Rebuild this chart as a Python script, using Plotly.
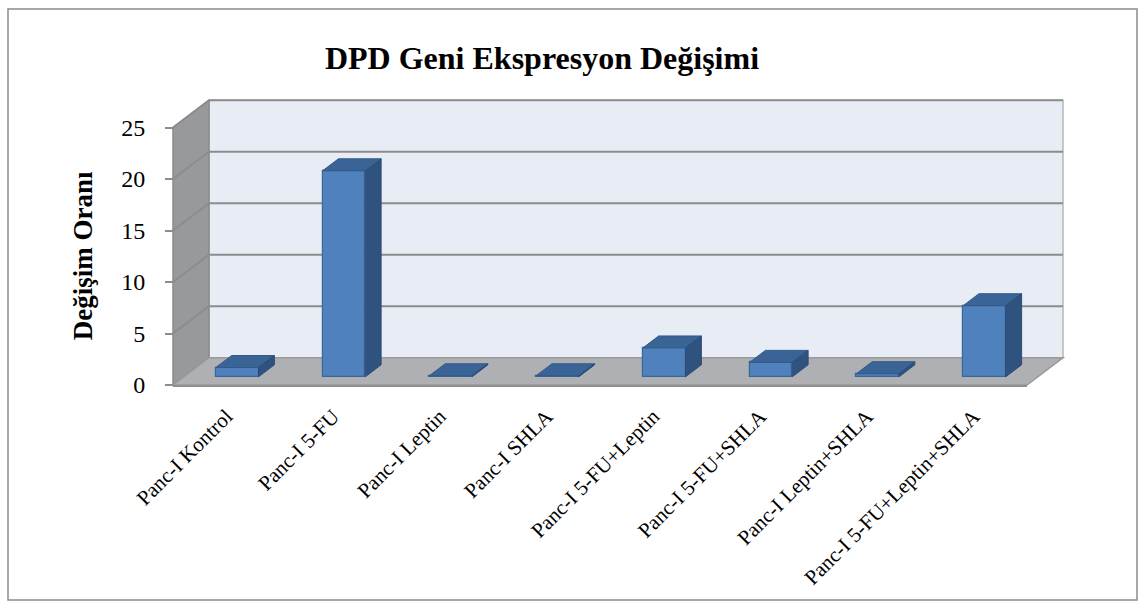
import plotly.graph_objects as go

# Chart data
categories = [
    "Panc-I Kontrol", "Panc-I 5-FU", "Panc-I Leptin", "Panc-I SHLA",
    "Panc-I 5-FU+Leptin", "Panc-I 5-FU+SHLA", "Panc-I Leptin+SHLA",
    "Panc-I 5-FU+Leptin+SHLA",
]
values = [0.9, 20.0, 0.1, 0.1, 2.8, 1.4, 0.3, 6.9]
y_ticks = [0, 5, 10, 15, 20, 25]

W, H = 1144, 608

# Pixel geometry of the oblique 3D box (front-left corner, scales, depth)
FRONT_X0_PX = 173.0      # left edge of the front floor edge
FRONT_Y0_PX = 385.0      # y pixel of value 0 on the front plane
PX_PER_CAT = 106.75
PX_PER_UNIT = 10.3
DEPTH_DX_PX = 36.0
DEPTH_DY_PX = 27.3

n = len(categories)
y_top = y_ticks[-1]

# Depth offsets expressed in data units
DX = DEPTH_DX_PX / PX_PER_CAT
DY = DEPTH_DY_PX / PX_PER_UNIT

# Axis ranges so that the whole page is the plotting area
x_lo = -FRONT_X0_PX / PX_PER_CAT - 0.5
x_hi = (W - FRONT_X0_PX) / PX_PER_CAT - 0.5
y_hi = FRONT_Y0_PX / PX_PER_UNIT
y_lo = (FRONT_Y0_PX - H) / PX_PER_UNIT

# Bar placement inside the depth of the box
BAR_F0 = 0.30            # fraction of depth where the bar front face sits
BAR_DEPTH = 0.44         # fraction of depth the bar occupies
BAR_W = 0.40

GRID = "#8c8c8c"
shapes = []

def poly(pts, fill, line_color, line_w=1.0):
    path = "M " + " L ".join(f"{x},{y}" for x, y in pts) + " Z"
    return dict(type="path", xref="x", yref="y", path=path, fillcolor=fill,
                line=dict(color=line_color, width=line_w), layer="below")

L, R = -0.5, n - 0.5

# back wall
shapes.append(poly([(L + DX, DY), (R + DX, DY), (R + DX, y_top + DY), (L + DX, y_top + DY)],
                   "#e8ecf5", "#b8b8b8", 1.5))
# side wall
shapes.append(poly([(L, 0), (L, y_top), (L + DX, y_top + DY), (L + DX, DY)],
                   "#98999c", "#8a8a8a", 1.5))
# gridlines on back wall and side wall
for v in y_ticks[1:]:
    shapes.append(dict(type="line", xref="x", yref="y", x0=L + DX, x1=R + DX,
                       y0=v + DY, y1=v + DY, line=dict(color=GRID, width=2), layer="below"))
    shapes.append(dict(type="line", xref="x", yref="y", x0=L, x1=L + DX,
                       y0=v, y1=v + DY, line=dict(color=GRID, width=2), layer="below"))
# floor
shapes.append(poly([(L, 0), (R, 0), (R + DX, DY), (L + DX, DY)],
                   "#aeb0b3", "#9a9a9a", 1.5))
shapes.append(dict(type="line", xref="x", yref="y", x0=L, x1=R, y0=-0.1, y1=-0.1,
                   line=dict(color="#8e8e8e", width=2), layer="below"))

# outer frame
shapes.append(dict(type="rect", xref="paper", yref="paper",
                   x0=8 / W, x1=1137 / W, y0=1 - 600 / H, y1=1 - 9 / H,
                   line=dict(color="#8c8c8c", width=1.5), fillcolor="rgba(0,0,0,0)",
                   layer="below"))

fig = go.Figure()

# bar front faces
x_front = [i + BAR_F0 * DX for i in range(n)]
base = BAR_F0 * DY
fig.add_trace(go.Bar(
    x=x_front, y=values, base=base, width=BAR_W,
    marker=dict(color="#4f81bd", line=dict(color="#3a6699", width=1.2)),
    hoverinfo="skip", showlegend=False,
))

# bar top and right faces
ddx, ddy = BAR_DEPTH * DX, BAR_DEPTH * DY
top_x, top_y, side_x, side_y = [], [], [], []
for xc, v in zip(x_front, values):
    xl, xr = xc - BAR_W / 2, xc + BAR_W / 2
    yt = base + v
    top_x += [xl, xr, xr + ddx, xl + ddx, xl, None]
    top_y += [yt, yt, yt + ddy, yt + ddy, yt, None]
    side_x += [xr, xr, xr + ddx, xr + ddx, xr, None]
    side_y += [base, yt, yt + ddy, base + ddy, base, None]

fig.add_trace(go.Scatter(x=top_x, y=top_y, mode="lines", fill="toself",
                         fillcolor="#3b6496", line=dict(color="#33598a", width=1),
                         hoverinfo="skip", showlegend=False))
fig.add_trace(go.Scatter(x=side_x, y=side_y, mode="lines", fill="toself",
                         fillcolor="#30527f", line=dict(color="#2c4c78", width=1),
                         hoverinfo="skip", showlegend=False))

SERIF = "Liberation Serif"

# y-axis title, centred on the front value scale
fig.add_annotation(text="<b>Değişim Oranı</b>", xref="paper", yref="y",
                   x=83 / W, y=y_top / 2, textangle=-90, showarrow=False,
                   xanchor="center", yanchor="middle",
                   font=dict(family=SERIF, size=27, color="black"))

fig.update_layout(
    width=W, height=H,
    margin=dict(l=0, r=0, t=0, b=0),
    paper_bgcolor="white", plot_bgcolor="white",
    shapes=shapes,
    bargap=0,
    title=dict(text="<b>DPD Geni Ekspresyon Değişimi</b>", x=542 / W, xanchor="center",
               y=1 - 58 / H, yanchor="middle",
               font=dict(family=SERIF, size=32, color="black")),
    xaxis=dict(range=[x_lo, x_hi], anchor="free", position=1 - FRONT_Y0_PX / H,
               tickmode="array", tickvals=list(range(n)), ticktext=categories,
               tickangle=-45, ticks="", showgrid=False, zeroline=False, showline=False,
               ticklabelstandoff=14,
               tickfont=dict(family=SERIF, size=21, color="black")),
    yaxis=dict(range=[y_lo, y_hi], anchor="free", position=FRONT_X0_PX / W,
               tickmode="array", tickvals=y_ticks, ticks="outside", ticklen=8,
               tickcolor="#8c8c8c", tickwidth=1.5,
               showgrid=False, zeroline=False, showline=False,
               ticklabelstandoff=15,
               tickfont=dict(family=SERIF, size=24, color="black")),
)

fig.write_html("out.html")
